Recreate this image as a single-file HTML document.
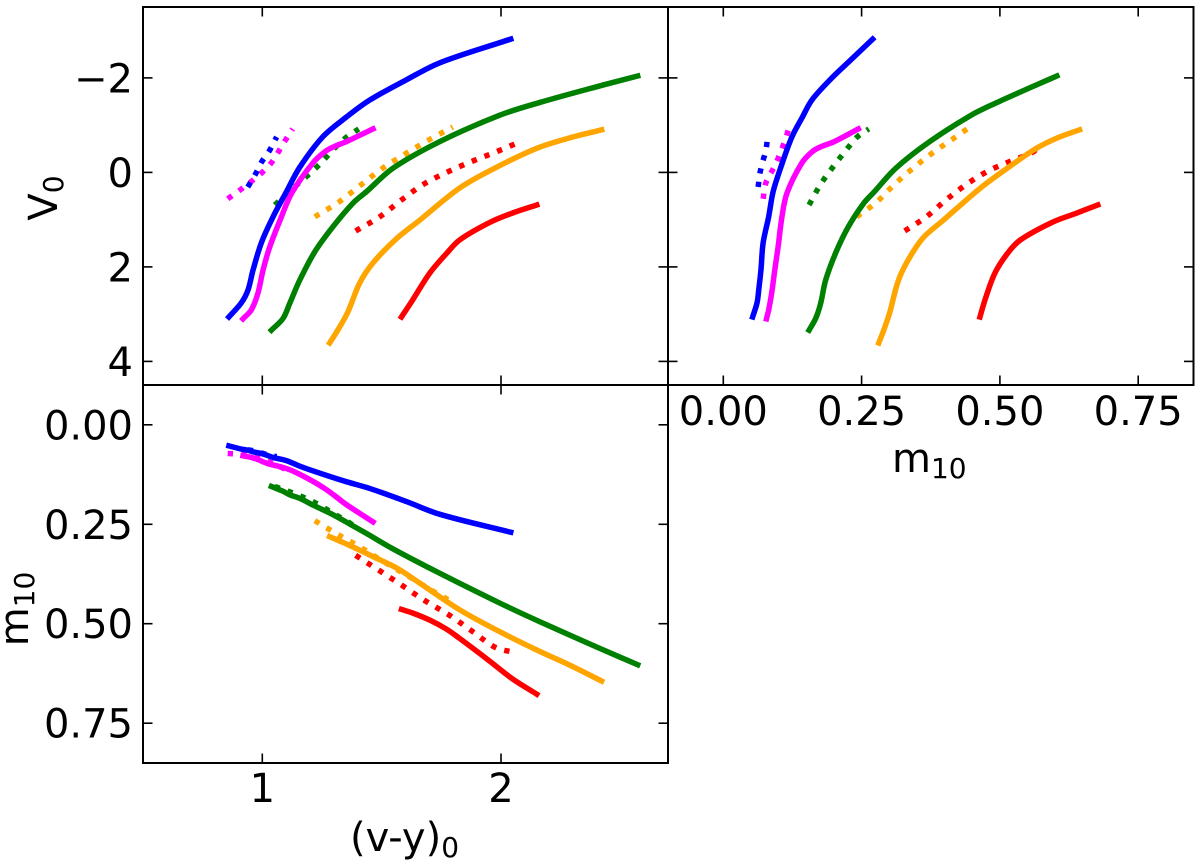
<!DOCTYPE html>
<html>
<head>
<meta charset="utf-8">
<style>
html,body{margin:0;padding:0;background:#fff;width:1200px;height:866px;overflow:hidden}
svg{display:block}
text{font-family:"DejaVu Sans","Liberation Sans",sans-serif;fill:#000}
</style>
</head>
<body>
<svg id="chart" width="1200" height="866" viewBox="0 0 1200 866" xmlns="http://www.w3.org/2000/svg">
<text transform="translate(57,198) rotate(-90)" text-anchor="middle" font-size="40">V<tspan font-size="28" dy="6">0</tspan></text>
<text transform="translate(28,609) rotate(-90)" text-anchor="middle" font-size="40">m<tspan font-size="28" dy="6">10</tspan></text>
<text x="892" y="472" font-size="40">m<tspan font-size="28" dy="6">10</tspan></text>
<text x="350" y="851" font-size="40">(v-y)<tspan font-size="28" dy="6">0</tspan></text>
</svg>
<script>
// Tick values
const vyTicks = [1, 2];
const vTicks = [-2, 0, 2, 4];
const mTicks = [0, 0.25, 0.5, 0.75];
const vTickLabels = ["\u22122", "0", "2", "4"];
const mTickLabels = ["0.00", "0.25", "0.50", "0.75"];
const vyTickLabels = ["1", "2"];

// Solid tracks: (v-y)0, V0, m10
const blueVy = [0.860,0.912,0.940,0.961,0.996,1.045,1.101,1.157,1.253,1.352,1.450,1.604,1.744,2.041];
const blueV = [3.06,2.76,2.49,2.07,1.49,0.94,0.41,-0.11,-0.75,-1.17,-1.53,-1.96,-2.32,-2.82];
const blueM = [0.053,0.061,0.064,0.068,0.072,0.082,0.090,0.104,0.124,0.143,0.160,0.193,0.225,0.270];

const magentaVy = [0.919,0.954,0.982,1.003,1.031,1.080,1.123,1.212,1.266,1.303,1.352,1.464];
const magentaV = [3.10,2.91,2.55,2.07,1.58,0.94,0.44,-0.20,-0.45,-0.55,-0.65,-0.92];
const magentaM = [0.078,0.082,0.0875,0.093,0.099,0.106,0.115,0.142,0.162,0.178,0.2005,0.244];

const greenVy = [1.038,1.087,1.115,1.157,1.220,1.296,1.380,1.436,1.548,1.743,1.995,2.163,2.414,2.573];
const greenV = [3.34,3.09,2.77,2.28,1.68,1.15,0.65,0.41,-0.09,-0.65,-1.21,-1.48,-1.83,-2.04];
const greenM = [0.155,0.167,0.176,0.185,0.204,0.226,0.254,0.273,0.312,0.373,0.448,0.495,0.562,0.603];

const orangeVy = [1.282,1.316,1.358,1.408,1.463,1.563,1.660,1.827,1.982,2.150,2.288,2.422];
const orangeV = [3.61,3.34,2.96,2.34,1.92,1.40,1.01,0.33,-0.11,-0.51,-0.73,-0.90];
const orangeM = [0.281,0.290,0.301,0.315,0.331,0.360,0.398,0.465,0.516,0.566,0.604,0.644];

const redVy = [1.583,1.630,1.702,1.773,1.827,1.953,2.049,2.150];
const redV = [3.06,2.70,2.13,1.71,1.43,1.06,0.86,0.69];
const redM = [0.464,0.473,0.491,0.514,0.537,0.594,0.639,0.677];

// Dotted tracks
const magentaDotVy = [0.855,0.947,1.031,1.094,1.127];
const magentaDotV = [0.56,0.22,-0.16,-0.66,-0.92];
const magentaDotM = [0.072,0.077,0.094,0.111,0.118];

const blueDotVy = [0.939,0.972,0.997,1.031,1.060];
const blueDotV = [0.31,0.03,-0.22,-0.47,-0.75];
const blueDotM = [0.063,0.066,0.071,0.077,0.080];

const greenDotVy = [1.052,1.144,1.228,1.312,1.354,1.404];
const greenDotV = [0.69,0.27,-0.11,-0.56,-0.75,-0.92];
const greenDotM = [0.155,0.175,0.198,0.228,0.242,0.263];

const orangeDotVy = [1.220,1.320,1.412,1.505,1.605,1.706,1.798];
const orangeDotV = [0.94,0.63,0.27,-0.09,-0.41,-0.71,-0.96];
const orangeDotM = [0.241,0.277,0.308,0.343,0.378,0.415,0.446];

const redDotVy = [1.391,1.492,1.584,1.676,1.785,1.882,1.978,2.058];
const redDotV = [1.24,0.94,0.58,0.25,-0.03,-0.24,-0.43,-0.60];
const redDotM = [0.328,0.367,0.403,0.440,0.479,0.520,0.560,0.572];

const svg = document.getElementById('chart');
const NS = 'http://www.w3.org/2000/svg';

function scale(d0, d1, p0, p1) {
  return function (v) { return p0 + (v - d0) * (p1 - p0) / (d1 - d0); };
}
const L1 = 143, R1 = 668, R2 = 1193.5, T1 = 7, B1 = 385, B3 = 763;
const xVyScale = scale(0.5, 2.7, L1, R1);
const xMScale = scale(-0.1, 0.85, R1, R2);
const yVScale = scale(-3.5, 4.5, T1, B1);
const yMScale = scale(-0.1, 0.85, B1, B3);

// Smooth curve through mapped data points
function smoothPath(xs, ys) {
  const n = xs.length;
  const tx = [], ty = [];
  for (let i = 0; i < n; i++) {
    const a = Math.max(0, i - 1), b = Math.min(n - 1, i + 1);
    const dx = xs[b] - xs[a], dy = ys[b] - ys[a];
    const h = Math.hypot(dx, dy) || 1;
    tx.push(dx / h);
    ty.push(dy / h);
  }
  let d = 'M' + xs[0].toFixed(2) + ' ' + ys[0].toFixed(2);
  for (let i = 0; i < n - 1; i++) {
    const len = Math.hypot(xs[i + 1] - xs[i], ys[i + 1] - ys[i]) / 3;
    d += 'C' + (xs[i] + tx[i] * len).toFixed(2) + ' ' + (ys[i] + ty[i] * len).toFixed(2) +
      ' ' + (xs[i + 1] - tx[i + 1] * len).toFixed(2) + ' ' + (ys[i + 1] - ty[i + 1] * len).toFixed(2) +
      ' ' + xs[i + 1].toFixed(2) + ' ' + ys[i + 1].toFixed(2);
  }
  return d;
}

const panels = [
  { id: 'cmd-panel', xs: xVyScale, ys: yVScale, xt: vyTicks, yt: vTicks, l: L1, r: R1, t: T1, b: B1, xk: 'vy', yk: 'v' },
  { id: 'm10-v0-panel', xs: xMScale, ys: yVScale, xt: mTicks, yt: vTicks, l: R1, r: R2, t: T1, b: B1, xk: 'm', yk: 'v' },
  { id: 'color-m10-panel', xs: xVyScale, ys: yMScale, xt: vyTicks, yt: mTicks, l: L1, r: R1, t: B1, b: B3, xk: 'vy', yk: 'm' }
];

// Draw order: dotted tracks first, then solid tracks
const series = [
  { n: 'magenta-dotted', c: '#ff00ff', d: true, vy: magentaDotVy, v: magentaDotV, m: magentaDotM },
  { n: 'blue-dotted', c: '#0000ff', d: true, vy: blueDotVy, v: blueDotV, m: blueDotM },
  { n: 'green-dotted', c: '#008000', d: true, vy: greenDotVy, v: greenDotV, m: greenDotM },
  { n: 'orange-dotted', c: '#ffa500', d: true, vy: orangeDotVy, v: orangeDotV, m: orangeDotM },
  { n: 'red-dotted', c: '#ff0000', d: true, vy: redDotVy, v: redDotV, m: redDotM },
  { n: 'magenta-solid', c: '#ff00ff', d: false, vy: magentaVy, v: magentaV, m: magentaM },
  { n: 'blue-solid', c: '#0000ff', d: false, vy: blueVy, v: blueV, m: blueM },
  { n: 'green-solid', c: '#008000', d: false, vy: greenVy, v: greenV, m: greenM },
  { n: 'orange-solid', c: '#ffa500', d: false, vy: orangeVy, v: orangeV, m: orangeM },
  { n: 'red-solid', c: '#ff0000', d: false, vy: redVy, v: redV, m: redM }
];

panels.forEach(function (p) {
  series.forEach(function (s) {
    const line = document.createElementNS(NS, 'path');
    line.setAttribute('d', smoothPath(s[p.xk].map(p.xs), s[p.yk].map(p.ys)));
    line.setAttribute('fill', 'none');
    line.setAttribute('stroke', s.c);
    line.setAttribute('stroke-width', '5.5');
    line.setAttribute('stroke-linejoin', 'round');
    if (s.d) {
      line.setAttribute('stroke-dasharray', '5.3 8.3');
    } else {
      line.setAttribute('stroke-linecap', 'square');
    }
    
    
    svg.appendChild(line);
  });

  p.xt.forEach(function (val) {
    const x = p.xs(val).toFixed(1);
    [[p.b, p.b - 9.5], [p.t, p.t + 9.5]].forEach(function (e) {
      const tick = document.createElementNS(NS, 'line');
      tick.setAttribute('x1', x);
      tick.setAttribute('x2', x);
      tick.setAttribute('y1', e[0]);
      tick.setAttribute('y2', e[1]);
      tick.setAttribute('stroke', '#000');
      tick.setAttribute('stroke-width', '1.6');
      
      
      svg.appendChild(tick);
    });
  });
  p.yt.forEach(function (val) {
    const y = p.ys(val).toFixed(1);
    [[p.l, p.l + 9.5], [p.r, p.r - 9.5]].forEach(function (e) {
      const tick = document.createElementNS(NS, 'line');
      tick.setAttribute('x1', e[0]);
      tick.setAttribute('x2', e[1]);
      tick.setAttribute('y1', y);
      tick.setAttribute('y2', y);
      tick.setAttribute('stroke', '#000');
      tick.setAttribute('stroke-width', '1.6');
      
      
      svg.appendChild(tick);
    });
  });

  const frame = document.createElementNS(NS, 'rect');
  frame.setAttribute('x', p.l);
  frame.setAttribute('y', p.t);
  frame.setAttribute('width', p.r - p.l);
  frame.setAttribute('height', p.b - p.t);
  frame.setAttribute('fill', 'none');
  frame.setAttribute('stroke', '#000');
  frame.setAttribute('stroke-width', '2');
  
  
  svg.appendChild(frame);
});

function addLabel(str, x, y, anchor, name) {
  const t = document.createElementNS(NS, 'text');
  t.textContent = str;
  t.setAttribute('x', x);
  t.setAttribute('y', y);
  t.setAttribute('text-anchor', anchor);
  t.setAttribute('font-size', '40');
  
  
  svg.appendChild(t);
}
vTicks.forEach(function (val, i) {
  addLabel(vTickLabels[i], 133, yVScale(val) + 14.5, 'end', 'v0-tick-label');
});
mTicks.forEach(function (val, i) {
  addLabel(mTickLabels[i], 133, yMScale(val) + 14.5, 'end', 'm10-y-tick-label');
});
mTicks.forEach(function (val, i) {
  addLabel(mTickLabels[i], xMScale(val), 425, 'middle', 'm10-x-tick-label');
});
vyTicks.forEach(function (val, i) {
  addLabel(vyTickLabels[i], xVyScale(val), 802, 'middle', 'vy-tick-label');
});
</script>
</body>
</html>
